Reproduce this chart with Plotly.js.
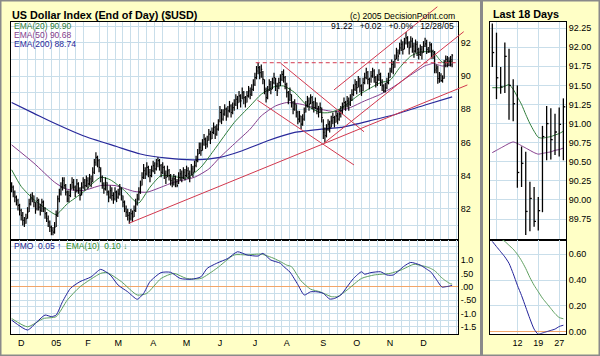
<!DOCTYPE html>
<html><head><meta charset="utf-8">
<script src="https://cdn.plot.ly/plotly-3.0.1.min.js"></script>
<style>html,body{margin:0;padding:0;background:#FFFFC6;} #chart{width:600px;height:356px;}</style>
</head><body><div id="chart"></div>
<script>
// ---- trading-day axis (index 0 = 2004-11-22, 277 = 2005-12-28) ----
const monthTickIdx = [6,28,48,67,89,110,131,153,173,196,217,238,259];
const monthLabels = ['D','05','F','M','A','M','J','J','A','S','O','N','D'];

// ---- daily bars ----
const hi = [83.6,83.4,83.1,82.8,82.6,82.3,82.0,81.8,81.5,81.7,
82.1,82.6,82.9,83.0,82.8,82.4,82.7,82.6,82.3,82.6,
82.5,82.1,81.8,81.6,81.3,81.0,80.9,81.2,81.9,82.8,
83.2,83.6,83.9,83.9,83.5,83.1,83.1,83.5,83.9,83.8,
83.4,83.8,83.6,83.3,83.6,83.9,83.8,84.0,83.9,84.1,
84.0,84.5,85.0,85.4,85.2,85.0,84.5,84.0,83.6,83.9,
83.6,83.1,83.4,83.3,83.0,83.3,83.1,83.2,83.5,83.3,
82.8,82.5,82.2,82.0,81.8,82.0,81.9,82.2,82.6,82.9,
83.3,83.7,84.2,84.7,84.5,84.8,84.6,84.4,84.6,84.9,
84.8,85.0,85.1,85.0,84.7,84.8,84.6,84.3,84.6,84.4,
84.1,83.9,84.1,84.0,83.8,84.2,84.4,84.3,84.5,84.4,
84.6,84.5,84.3,84.7,84.6,84.9,85.2,85.6,86.0,86.0,
86.2,86.5,86.3,86.4,86.8,86.7,86.9,87.2,87.0,87.1,
87.4,88.2,88.0,88.0,88.3,88.1,88.2,88.5,88.3,88.4,
88.6,88.9,88.8,89.1,88.9,89.3,89.1,88.8,89.1,89.4,
89.3,89.5,89.8,90.2,90.6,90.8,90.6,90.7,90.3,89.8,
89.3,89.4,89.8,89.7,89.9,90.2,89.9,89.6,89.9,90.1,
90.3,90.4,90.0,89.6,89.1,89.3,88.9,88.5,88.6,88.3,
87.9,87.9,87.6,87.7,88.1,88.5,88.8,88.7,88.9,88.8,
88.5,88.7,88.4,88.2,88.4,88.1,87.4,86.9,87.1,87.4,
87.3,87.6,87.8,87.6,87.9,87.8,88.0,88.2,88.4,88.7,
88.5,88.8,88.7,88.9,89.2,89.5,89.8,89.7,90.0,89.9,
89.5,89.9,90.2,90.5,90.3,89.9,90.3,90.5,90.4,90.0,
90.1,90.4,90.2,89.8,89.5,89.6,89.9,90.2,90.5,91.0,
90.9,91.3,91.7,91.6,92.0,92.2,92.1,92.3,92.65,92.4,
92.1,92.4,92.3,92.0,92.2,92.1,91.7,91.9,91.8,92.1,
92.31,92.19,91.74,92.06,91.98,91.58,91.50,90.70,90.63,90.24,
90.17,90.04,90.97,91.23,91.20,91.13,91.21,91.33];
const lo = [83.0,82.7,82.4,82.2,81.9,81.6,81.3,81.0,80.9,81.1,
81.4,81.8,82.2,82.4,82.1,81.7,81.9,81.9,81.6,81.8,
81.8,81.4,81.2,80.9,80.6,80.4,80.4,80.5,80.9,81.5,
82.4,82.8,83.1,83.2,82.8,82.4,82.4,82.7,83.2,83.1,
82.7,83.0,82.9,82.5,82.8,83.2,83.1,83.3,83.2,83.4,
83.3,83.6,84.1,84.6,84.5,84.2,83.6,83.2,82.9,83.1,
82.8,82.4,82.6,82.5,82.3,82.5,82.4,82.6,82.8,82.5,
82.1,81.8,81.5,81.3,81.1,81.3,81.2,81.5,81.8,82.2,
82.5,82.9,83.4,83.8,83.8,84.0,83.9,83.6,83.9,84.2,
84.1,84.3,84.5,84.3,83.9,84.1,83.8,83.5,83.9,83.7,
83.4,83.3,83.4,83.3,83.3,83.5,83.7,83.6,83.8,83.7,
83.9,83.8,83.6,84.0,83.9,84.2,84.5,84.8,85.3,85.2,
85.5,85.8,85.6,85.7,86.1,85.9,86.2,86.5,86.2,86.4,
86.7,87.2,87.1,87.3,87.6,87.3,87.5,87.8,87.5,87.7,
87.9,88.2,88.0,88.4,88.1,88.6,88.3,88.1,88.4,88.7,
88.6,88.8,89.1,89.4,89.8,90.1,89.8,89.9,89.5,88.9,
88.4,88.6,89.1,88.9,89.2,89.5,89.1,88.8,89.2,89.4,
89.7,89.6,89.2,88.7,88.3,88.5,88.1,87.7,87.9,87.5,
87.1,87.2,86.8,87.0,87.3,87.8,88.1,87.9,88.3,88.0,
87.8,88.0,87.7,87.5,87.8,87.2,86.2,86.0,86.3,86.7,
86.6,86.9,87.1,86.9,87.2,87.1,87.3,87.5,87.7,88.0,
87.9,88.1,87.9,88.2,88.5,88.8,89.1,88.9,89.3,89.0,
88.8,89.1,89.5,89.8,89.5,89.2,89.6,89.9,89.6,89.3,
89.4,89.7,89.4,89.1,89.0,89.0,89.2,89.5,89.9,90.2,
90.1,90.5,91.0,90.9,91.3,91.5,91.3,91.6,91.9,91.7,
91.3,91.7,91.4,91.1,91.4,91.2,91.0,91.2,91.0,91.4,
91.74,91.32,91.39,91.40,91.05,91.03,90.16,90.17,89.54,89.59,
89.65,89.60,89.84,90.52,90.53,90.59,90.57,90.52];
const cl = [83.3,83.0,82.7,82.5,82.2,81.9,81.6,81.3,81.1,81.4,
81.8,82.3,82.6,82.8,82.4,82.0,82.5,82.1,81.9,82.4,
82.0,81.7,81.4,81.2,80.9,80.7,80.6,80.9,81.6,82.6,
82.9,83.3,83.7,83.4,83.0,82.6,82.8,83.2,83.6,83.3,
83.0,83.5,83.2,82.8,83.3,83.6,83.4,83.7,83.5,83.8,
83.6,84.2,84.8,85.1,84.9,84.5,83.9,83.5,83.2,83.6,
83.0,82.7,83.1,82.8,82.6,83.0,82.7,82.9,83.2,82.8,
82.4,82.0,81.8,81.6,81.4,81.7,81.5,81.9,82.3,82.6,
83.0,83.4,83.9,84.3,84.1,84.5,84.2,84.0,84.3,84.6,
84.4,84.7,84.9,84.6,84.2,84.5,84.1,83.9,84.3,84.0,
83.7,83.5,83.8,83.6,83.4,83.9,84.1,83.9,84.2,84.0,
84.3,84.1,83.9,84.4,84.2,84.6,84.9,85.3,85.7,85.5,
85.9,86.2,85.9,86.1,86.5,86.2,86.6,86.9,86.5,86.8,
87.1,87.8,87.4,87.7,88.0,87.6,87.9,88.2,87.8,88.1,
88.3,88.6,88.4,88.8,88.5,89.0,88.7,88.4,88.8,89.1,
88.9,89.2,89.5,89.9,90.3,90.5,90.2,90.4,89.8,89.2,
88.7,89.1,89.5,89.2,89.6,89.9,89.4,89.1,89.6,89.8,
90.1,89.9,89.5,89.0,88.6,88.9,88.4,88.0,88.3,87.8,
87.4,87.6,87.1,87.4,87.8,88.2,88.5,88.3,88.7,88.4,
88.1,88.4,88.0,87.8,88.1,87.5,86.6,86.4,86.8,87.1,
86.9,87.3,87.5,87.2,87.6,87.4,87.7,87.9,88.1,88.4,
88.2,88.5,88.3,88.6,88.9,89.2,89.5,89.3,89.7,89.4,
89.1,89.6,89.9,90.2,89.8,89.5,90.0,90.3,89.9,89.6,
89.8,90.1,89.7,89.4,89.1,89.3,89.6,89.9,90.3,90.7,
90.5,91.0,91.4,91.2,91.7,91.9,91.6,92.0,92.3,92.0,
91.7,92.1,91.8,91.5,91.9,91.6,91.3,91.6,91.4,91.8,
91.93,91.6,91.48,91.88,91.5,91.26,90.36,90.48,89.85,90.02,
89.72,89.86,90.83,91.0,90.79,90.89,90.99,91.22];

// ---- moving averages (trading-day index, value) ----
const ema20Idx = [0,6,14,24,28,35,45,56,62,71,77,80,87,94,102,110,119,127,140,150,157,165,171,178,186,194,200,207,219,232,238,244,251,257];
const ema20Val = [84.35,83.35,82.55,81.85,81.65,82.3,83.0,83.9,83.75,83.1,82.5,82.35,83.3,84.0,83.95,83.85,84.5,85.5,87.2,88.2,88.9,89.35,89.4,89.0,88.2,87.8,87.8,88.05,88.9,89.6,89.75,90.5,91.2,91.45];
const ema50Idx = [0,14,27,34,45,56,65,77,85,94,102,115,124,131,141,150,157,166,173,182,194,204,213,222,232,241,250];
const ema50Val = [85.85,84.75,83.6,83.2,83.1,83.4,83.4,83.05,83.0,83.3,83.6,83.9,84.4,85.1,86.0,86.8,87.6,88.2,88.4,88.3,88.0,87.85,88.1,88.5,88.9,89.4,90.0];
const ema200Idx = [0,14,27,45,66,81,98,115,131,145,161,178,195,207,225,240,260,277];
const ema200Val = [88.4,87.75,87.15,86.4,85.75,85.3,85.05,84.95,85.1,85.5,86.1,86.6,86.8,86.9,87.3,87.65,88.25,88.74];
// last 18 days (index 260..277), dense
const last18Start = 260;
const ema20Last18 = [91.47,91.47,91.47,91.49,91.51,91.45,91.35,91.25,91.12,91.0,90.9,90.82,90.81,90.82,90.83,90.85,90.87,90.90];
const ema50Last18 = [90.62,90.65,90.68,90.71,90.74,90.76,90.74,90.71,90.68,90.65,90.62,90.60,90.61,90.62,90.63,90.65,90.66,90.68];

// ---- PMO and its EMA(10) ----
const pmoIdx = [0,10,16,21,25,28,32,37,43,50,56,62,67,73,79,83,87,94,100,106,113,119,123,129,136,142,148,155,158,163,169,171,175,180,184,188,192,196,200,203,207,211,215,220,222,226,232,236,240,247,251,257];
const pmoVal = [-1.25,-1.62,-1.31,-1.06,-1.12,-1.06,-0.56,-0.06,0.19,0.37,0.65,0.44,0.06,-0.19,-0.47,-0.25,0.19,0.53,0.54,0.31,0.28,0.37,0.69,0.88,1.06,1.31,1.19,1.15,1.25,1.0,0.88,0.76,0.55,0.08,-0.31,-0.19,-0.19,-0.25,-0.46,-0.44,-0.31,0.0,0.31,0.56,0.47,0.53,0.56,0.44,0.44,0.78,0.91,0.81];
const sigIdx = [0,10,20,28,35,43,56,60,69,79,85,94,102,110,119,129,140,148,157,165,169,173,176,182,188,194,201,205,211,220,228,238,245,253,257];
const sigVal = [-1.19,-1.5,-1.19,-1.12,-0.5,0.0,0.5,0.53,0.19,-0.31,-0.25,0.31,0.5,0.31,0.31,0.69,1.19,1.19,1.22,1.06,0.94,0.81,0.75,0.22,-0.09,-0.19,-0.37,-0.37,-0.12,0.31,0.44,0.5,0.63,0.84,0.80];
const pmoLast18 = [0.70,0.66,0.62,0.58,0.53,0.45,0.36,0.28,0.19,0.10,0.02,-0.02,-0.01,0.0,0.01,0.02,0.04,0.05];
const sigLast18 = [0.76,0.74,0.72,0.70,0.67,0.64,0.60,0.55,0.49,0.42,0.36,0.31,0.26,0.22,0.18,0.14,0.11,0.10];

// ---- analyst trendlines: [startIdx, startPrice, endIdx, endPrice] ----
const trendLines = [
  [73.8, 81.13, 286.6, 89.46],
  [154.5, 88.55, 215.3, 84.64],
  [169.2, 90.77, 221.6, 86.64],
  [196.4, 85.95, 284.3, 92.67],
  [202.7, 89.16, 267.7, 94.17]
];
const resistance = [153.5, 90.8, 281, 90.8];

// ---- axis labels ----
const priceTicks = [82,84,86,88,90,92];
const pmoTicks = [-1.5,-1,-0.5,0,0.5,1];
const pmoTickText = ['-1.5','-1.0','-.50','.00','.50','1.0'];
const last18PriceTicks = [89.75,90.00,90.25,90.50,90.75,91.00,91.25,91.50,91.75,92.00,92.25];
const last18PmoTicks = [0,0.2,0.4,0.6];
const last18TickIdx = [6,11,16];
const last18Labels = ['12','19','27'];

// ---- styles ----
const GRID = '#C9DEEA';
const C20 = '#2F7D3A', C50 = '#843C8C', C200 = '#28289A', CPMO = '#23239A', CSIG = '#5FA060', CTR = '#D2384E', CZERO = '#F2A66A';
const FONT = 'Arial, "Liberation Sans", sans-serif';

function barPath(idxArr, h, l, c, tick) {
  const x = [], y = [];
  for (let k = 0; k < idxArr.length; k++) {
    x.push(idxArr[k], idxArr[k], null, idxArr[k], idxArr[k] + tick, null);
    y.push(l[k], h[k], null, c[k], c[k], null);
  }
  return {x, y};
}
const allIdx = cl.map((_, i) => i);
const mainBars = barPath(allIdx, hi, lo, cl, 0.6);
const l18Idx = allIdx.slice(last18Start).map(i => i - last18Start);
const l18Bars = barPath(l18Idx, hi.slice(last18Start), lo.slice(last18Start), cl.slice(last18Start), 0.45);
const l18Days = allIdx.slice(last18Start);

const traces = [];
function line(x, y, color, xa, ya, w) {
  traces.push({type:'scatter', mode:'lines', x, y, xaxis:xa, yaxis:ya, hoverinfo:'skip',
    line:{color, width:w||1, shape:'spline', smoothing:0.6}});
}
// main price pane
line(ema200Idx, ema200Val, C200, 'x', 'y', 1.2);
line(ema50Idx.concat(l18Days), ema50Val.concat(ema50Last18), C50, 'x', 'y', 1);
line(ema20Idx.concat(l18Days), ema20Val.concat(ema20Last18), C20, 'x', 'y', 1);
traces.push({type:'scatter', mode:'lines', x:mainBars.x, y:mainBars.y, xaxis:'x', yaxis:'y', hoverinfo:'skip', line:{color:'#000', width:1.2}});
// trendlines on an unclipped overlay subplot (same scale, larger area)
trendLines.forEach(t => traces.push({type:'scatter', mode:'lines', x:[t[0], t[2]], y:[t[1], t[3]], xaxis:'x5', yaxis:'y5', hoverinfo:'skip', line:{color:CTR, width:1}}));
traces.push({type:'scatter', mode:'lines', x:[resistance[0], resistance[2]], y:[resistance[1], resistance[3]], xaxis:'x5', yaxis:'y5', hoverinfo:'skip', line:{color:CTR, width:1, dash:'4px,3px'}});
// main PMO pane
line(sigIdx.concat(l18Days), sigVal.concat(sigLast18), CSIG, 'x2', 'y2', 1);
line(pmoIdx.concat(l18Days), pmoVal.concat(pmoLast18), CPMO, 'x2', 'y2', 1);
// last 18 days price pane
line(l18Idx, ema50Last18, C50, 'x3', 'y3', 1);
line(l18Idx, ema20Last18, C20, 'x3', 'y3', 1);
traces.push({type:'scatter', mode:'lines', x:l18Bars.x, y:l18Bars.y, xaxis:'x3', yaxis:'y3', hoverinfo:'skip', line:{color:'#000', width:1.3}});
// last 18 days PMO pane
line(l18Idx, sigLast18, CSIG, 'x4', 'y4', 1);
line(l18Idx, pmoLast18, CPMO, 'x4', 'y4', 1);

const H = 356, W = 600;
const px = v => v / W, py = v => 1 - v / H;
const priceDom = [py(240), py(22)], pmoDom = [py(334), py(240)];
const mainX = [px(11), px(458)], rightX = [px(490), px(566)];
const xRange = [-0.4, 280.7], yRange = [80.12, 93.253];
// overlay extents (same units per pixel as the main pane)
const xPerPx = (xRange[1] - xRange[0]) / (458 - 11), yPerPx = (yRange[1] - yRange[0]) / (240 - 22);
const frame = {showline:true, mirror:true, linecolor:'#000', linewidth:1, zeroline:false};

function ann(text, x, y, size, color, anchor, bold) {
  return {xref:'paper', yref:'paper', x:px(x), y:py(y), xanchor:anchor||'left', yanchor:'middle', showarrow:false,
    text: bold ? '<b>' + text + '</b>' : text, font:{family:FONT, size, color:color||'#000'}};
}
const whiteBg = (xa, ya) => ({type:'rect', xref:xa + ' domain', yref:ya + ' domain', x0:0, x1:1, y0:0, y1:1, layer:'below', fillcolor:'#FFFFFF', line:{width:0}});

const layout = {
  width:W, height:H, margin:{l:0, r:0, t:0, b:0},
  paper_bgcolor:'#FFFFC6', plot_bgcolor:'rgba(0,0,0,0)', showlegend:false,
  font:{family:FONT, size:9, color:'#000'},
  xaxis: Object.assign({domain:mainX, range:xRange, anchor:'y', showticklabels:false, ticks:'', showgrid:false,
    minor:{tickmode:'linear', tick0:0, dtick:5, showgrid:true, gridcolor:GRID, gridwidth:1, ticks:''}}, frame),
  xaxis2: Object.assign({domain:mainX, matches:'x', anchor:'y2', tickmode:'array', tickvals:monthTickIdx, ticktext:monthLabels,
    ticks:'', showgrid:false, tickfont:{size:9},
    minor:{tickmode:'linear', tick0:0, dtick:5, showgrid:true, gridcolor:GRID, gridwidth:1, ticks:''}}, frame),
  yaxis: Object.assign({domain:priceDom, range:yRange, anchor:'x', side:'right', tickmode:'array',
    tickvals:priceTicks, ticks:'', showgrid:true, gridcolor:GRID, tickfont:{size:9},
    minor:{tickmode:'linear', tick0:80, dtick:1, showgrid:true, gridcolor:GRID, ticks:''}}, frame),
  yaxis2: Object.assign({domain:pmoDom, range:[-1.77, 1.75], anchor:'x2', side:'right', tickmode:'array',
    tickvals:pmoTicks, ticktext:pmoTickText, ticks:'', showgrid:true, gridcolor:GRID,
    tickfont:{size:9}, minor:{tickmode:'linear', tick0:0, dtick:0.25, showgrid:true, gridcolor:GRID, ticks:''}}, frame,
    {zeroline:true, zerolinecolor:CZERO, zerolinewidth:1.5}),
  xaxis3: Object.assign({domain:rightX, range:[-0.55, 17.63], anchor:'y3', showticklabels:false, ticks:'',
    tickmode:'array', tickvals:[1].concat(last18TickIdx), showgrid:true, gridcolor:GRID}, frame),
  xaxis4: Object.assign({domain:rightX, matches:'x3', anchor:'y4', tickmode:'array', tickvals:last18TickIdx, ticktext:last18Labels,
    ticks:'', showgrid:true, gridcolor:GRID, tickfont:{size:9}}, frame),
  yaxis3: Object.assign({domain:priceDom, range:[89.476, 92.33], anchor:'x3', side:'right', tickmode:'array', tickvals:last18PriceTicks,
    tickformat:'.2f', ticks:'', showgrid:true, gridcolor:GRID, tickfont:{size:9}}, frame),
  yaxis4: Object.assign({domain:pmoDom, range:[-0.018, 0.711], anchor:'x4', side:'right', tickmode:'array', tickvals:last18PmoTicks,
    tickformat:'.2f', ticks:'', showgrid:true, gridcolor:GRID, tickfont:{size:9}}, frame,
    {zeroline:true, zerolinecolor:CZERO, zerolinewidth:1.5}),
  xaxis5: {domain:[px(11), px(480)], range:[xRange[0], xRange[0] + xPerPx * (480 - 11)], anchor:'y5', visible:false, fixedrange:true},
  yaxis5: {domain:[py(240), 1], range:[yRange[0], yRange[0] + yPerPx * 240], anchor:'x5', visible:false, fixedrange:true},
  shapes: [
    whiteBg('x', 'y'), whiteBg('x2', 'y2'), whiteBg('x3', 'y3'), whiteBg('x4', 'y4'),
    {type:'line', xref:'paper', yref:'paper', x0:px(481.5), x1:px(481.5), y0:0, y1:1, line:{color:'#8A8A8A', width:3}},
    {type:'rect', xref:'paper', yref:'paper', x0:0, x1:1, y0:0, y1:1, line:{color:'#8A8A8A', width:3}}
  ],
  annotations: [
    ann('US Dollar Index (End of Day) ($USD)', 10, 15, 10.8, '#000', 'left', true),
    ann('(c) 2005 DecisionPoint.com', 457, 16, 8.6, '#000', 'right'),
    ann('91.22&nbsp;&nbsp;&nbsp;+0.02&nbsp;&nbsp;&nbsp;+0.0%&nbsp;&nbsp;&nbsp;12/28/05', 456, 26.5, 8.6, '#000', 'right'),
    ann('EMA(20) 90.90', 12, 26, 8.5, C20),
    ann('EMA(50) 90.68', 12, 35, 8.5, C50),
    ann('EMA(200) 88.74', 12, 44, 8.5, C200),
    ann('Last 18 Days', 491, 14, 10.8, '#000', 'left', true),
    ann('<span style="color:#1A1A8C">PMO&nbsp;&nbsp;0.05 </span><span style="color:#2020C0"><b>↑</b></span><span style="color:#2E8B2E">&nbsp;&nbsp;EMA(10)&nbsp;&nbsp;0.10 <b>↓</b></span>', 12, 245.5, 8.5, '#000')
  ]
};

Plotly.newPlot('chart', traces, layout, {staticPlot:true, displayModeBar:false});
</script>
</body></html>
